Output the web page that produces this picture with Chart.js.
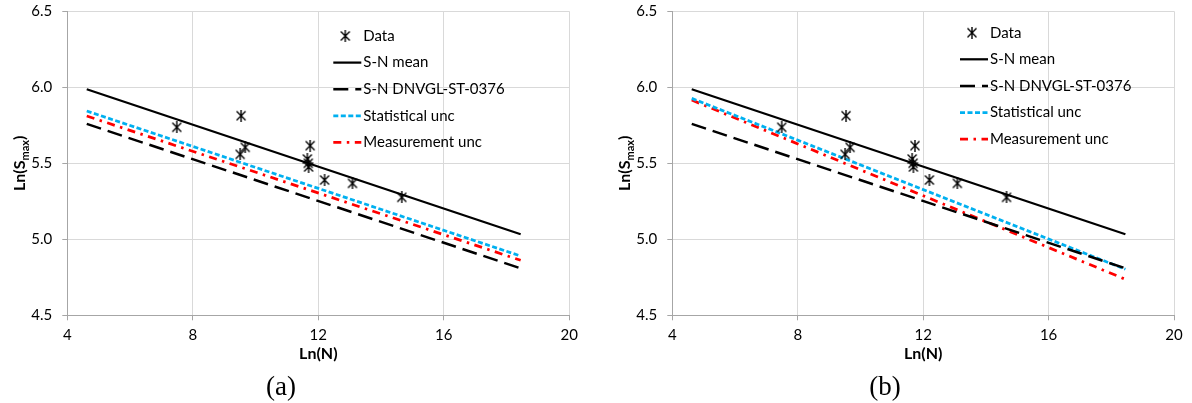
<!DOCTYPE html>
<html>
<head>
<meta charset="utf-8">
<script src="https://cdn.jsdelivr.net/npm/chart.js@4"></script>
<style>
  html, body { margin: 0; padding: 0; background: #fff; }
  body { width: 1192px; height: 403px; position: relative; overflow: hidden; }
  .panel { position: absolute; top: 0; height: 403px; }
  .caption { position: absolute; top: 370px; font-family: "Liberation Serif", "Times New Roman", serif; font-size: 27px; line-height: 32px; transform: translateX(-50%); color: #000; }
</style>
</head>
<body>
<div class="panel" style="left:0;width:600px"><canvas id="chartA" width="600" height="403"></canvas></div>
<div class="panel" style="left:600px;width:592px"><canvas id="chartB" width="592" height="403"></canvas></div>
<div class="caption" style="left:281px">(a)</div>
<div class="caption" style="left:885px">(b)</div>
<script>
// test points (same in both panels)
const lnN = [7.49, 9.54, 9.51, 9.67, 11.74, 11.65, 11.68, 11.69, 12.2, 13.09, 14.66];
const lnS = [5.737, 5.813, 5.559, 5.605, 5.616, 5.528, 5.50, 5.476, 5.39, 5.368, 5.276];

// S-N curve end points
const fitN = [4.62, 18.45];
const meanS = [5.987, 5.033];
const dnvS = [5.759, 4.809];
const statS_a = [5.844, 4.89];
const measS_a = [5.811, 4.862];
const statS_b = [5.927, 4.803];
const measS_b = [5.916, 4.737];

const xTicks = [4, 8, 12, 16, 20];
const yTicks = [4.5, 5.0, 5.5, 6.0, 6.5];
const legendLabels = ["Data", "S-N mean", "S-N DNVGL-ST-0376", "Statistical unc", "Measurement unc"];

const FONT = 'Lato, "Open Sans", sans-serif';
Chart.defaults.font.family = FONT;
Chart.defaults.color = "#000";

// excel-like star marker: x with a vertical bar
function makeStar() {
    const c = document.createElement("canvas");
    c.width = 12; c.height = 12;
    const g = c.getContext("2d");
    g.strokeStyle = "#000";
    g.lineWidth = 1.4;
    g.beginPath();
    g.moveTo(1.5, 1.5); g.lineTo(10.5, 10.5);
    g.moveTo(10.5, 1.5); g.lineTo(1.5, 10.5);
    g.moveTo(6, 0); g.lineTo(6, 12);
    g.stroke();
    return c;
}
const star = makeStar();

const insideLegend = {
    id: "insideLegend",
    afterDraw(chart, args, opts) {
        const ctx = chart.ctx;
        ctx.save();
        ctx.font = "15px " + FONT;
        ctx.textBaseline = "middle";
        ctx.fillStyle = "#000";
        chart.data.datasets.forEach((ds, i) => {
            const y = opts.y + i * opts.gap;
            if (ds.showLine) {
                ctx.strokeStyle = ds.borderColor;
                ctx.lineWidth = ds.borderWidth;
                ctx.setLineDash(ds.borderDash || []);
                ctx.beginPath();
                ctx.moveTo(opts.x, y);
                ctx.lineTo(opts.x + 28, y);
                ctx.stroke();
                ctx.setLineDash([]);
            } else {
                ctx.drawImage(ds.pointStyle, opts.x + 12 - 6, y - 6);
            }
            ctx.fillText(ds.label, opts.x + 30, y);
        });
        ctx.restore();
    }
};

// y title with subscript, Chart.js title can't do that
const yTitle = {
    id: "yTitle",
    afterDraw(chart, args, opts) {
        const { ctx, chartArea } = chart;
        const cx = chartArea.left - opts.offset;
        const cy = (chartArea.top + chartArea.bottom) / 2;
        const big = "bold 16px " + FONT, small = "bold 11px " + FONT;
        ctx.save();
        ctx.translate(cx, cy);
        ctx.rotate(-Math.PI / 2);
        ctx.font = big;
        const w1 = ctx.measureText("Ln(S").width, w3 = ctx.measureText(")").width;
        ctx.font = small;
        const w2 = ctx.measureText("max").width;
        let x = -(w1 + w2 + w3) / 2;
        ctx.fillStyle = "#000";
        ctx.textBaseline = "alphabetic";
        ctx.font = big; ctx.fillText("Ln(S", x, 6); x += w1;
        ctx.font = small; ctx.fillText("max", x, 10); x += w2;
        ctx.font = big; ctx.fillText(")", x, 6);
        ctx.restore();
    }
};

function line(label, ys, color, dash, width) {
    return {
        label,
        data: fitN.map((x, i) => ({ x, y: ys[i] })),
        showLine: true,
        borderColor: color,
        backgroundColor: color,
        borderDash: dash,
        borderWidth: width,
        pointRadius: 0,
        pointHoverRadius: 0
    };
}

function makeChart(id, stat, meas, cfg) {
    return new Chart(document.getElementById(id), {
        type: "scatter",
        data: {
            datasets: [
                {
                    label: legendLabels[0],
                    data: lnN.map((x, i) => ({ x, y: lnS[i] })),
                    pointStyle: star,
                    pointRadius: 6,
                    showLine: false
                },
                line(legendLabels[1], meanS, "#000", [], 2.25),
                line(legendLabels[2], dnvS, "#000", [15, 7], 2.5),
                line(legendLabels[3], stat, "#00b0f0", [5, 2.5], 2.75),
                line(legendLabels[4], meas, "#ff0000", [8, 5.5, 2.5, 5.5], 2.75)
            ]
        },
        options: {
            responsive: false,
            animation: false,
            devicePixelRatio: 1,
            layout: { padding: { top: 11.3, right: cfg.padRight, bottom: 40, left: 0 } },
            plugins: {
                legend: { display: false },
                tooltip: { enabled: false },
                insideLegend: { x: cfg.legX, y: cfg.legY, gap: 26.6 },
                yTitle: { offset: 48 }
            },
            scales: {
                x: {
                    type: "linear",
                    min: 4, max: 20,
                    afterBuildTicks: s => { s.ticks = xTicks.map(v => ({ value: v })); },
                    afterFit: s => { s.height = 47.7; s.paddingLeft = 0; s.paddingRight = 0; },
                    ticks: { font: { size: 15 }, color: "#000", padding: 6, maxRotation: 0 },
                    grid: { color: "#d9d9d9", tickLength: 5, tickColor: "#a6a6a6" },
                    border: { color: "#a6a6a6" },
                    title: { display: true, text: "Ln(N)", font: { size: 16, weight: "bold" }, color: "#000", padding: 0 }
                },
                y: {
                    type: "linear",
                    min: 4.5, max: 6.5,
                    afterBuildTicks: s => { s.ticks = yTicks.map(v => ({ value: v })); },
                    afterFit: s => { s.width = cfg.axisLeft; s.paddingTop = 0; s.paddingBottom = 0; },
                    ticks: { font: { size: 15 }, color: "#000", padding: 10, callback: v => v.toFixed(1) },
                    grid: { color: "#d9d9d9", tickLength: 5, tickColor: "#a6a6a6" },
                    border: { color: "#a6a6a6" }
                }
            }
        },
        plugins: [insideLegend, yTitle]
    });
}

makeChart("chartA", statS_a, measS_a, { axisLeft: 67.3, padRight: 30.7, legX: 333.3, legY: 36 });
makeChart("chartB", statS_b, measS_b, { axisLeft: 72.3, padRight: 18, legX: 360, legY: 32.7 });
</script>
</body>
</html>
